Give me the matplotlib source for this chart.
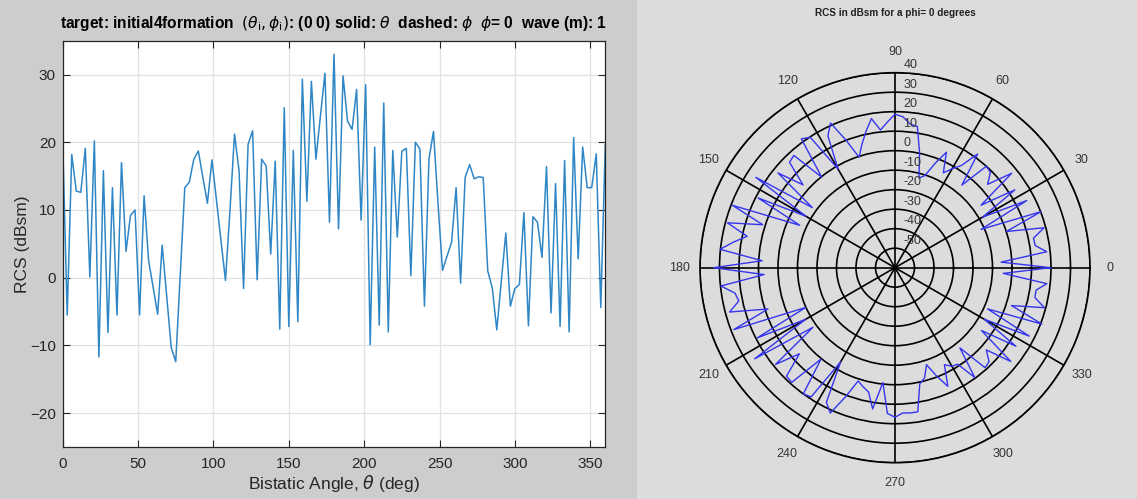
import numpy as np
import matplotlib
matplotlib.use("Agg")
import matplotlib.pyplot as plt
from matplotlib.patches import Rectangle

plt.rcParams['font.family'] = ['Liberation Sans', 'DejaVu Sans']
plt.rcParams['mathtext.fontset'] = 'dejavusans'

# ---------------- data ----------------
theta_deg = np.arange(0, 361, 3)  # sampling grid of bistatic angle (deg)
rcs_dbsm = [
    20.0, -5.5, 18.2, 12.8, 12.6, 19.1, 0.1, 20.2, -11.7, 15.8,
    -8.1, 13.3, -5.5, 17.0, 3.9, 9.2, 10.0, -5.5, 12.1, 2.5,
    -1.4, -5.4, 4.8, -2.7, -10.3, -12.4, 0.5, 13.3, 14.1, 17.5,
    18.7, 14.8, 11.0, 17.4, 11.5, 5.5, -0.4, 10.0, 21.2, 15.8,
    -1.6, 19.7, 21.7, -0.3, 17.5, 16.5, 3.5, 17.2, -7.6, 25.1,
    -7.2, 18.8, -6.5, 29.3, 11.3, 29.0, 17.5, 23.9, 30.2, 8.2,
    33.0, 7.2, 29.8, 23.1, 21.9, 27.8, 8.5, 28.5, -9.9, 19.3,
    -7.0, 25.8, -8.0, 18.8, 6.0, 18.7, 19.1, 0.3, 20.0, 19.0,
    -4.2, 17.5, 21.6, 11.0, 1.1, 3.2, 5.2, 13.3, -0.8, 14.8,
    16.7, 14.6, 14.9, 14.8, 1.0, -1.5, -7.7, -0.5, 6.6, -4.2,
    -1.6, -1.0, 9.6, -7.1, 9.0, 8.2, 3.0, 16.4, -5.2, 13.9,
    -7.2, 17.3, -8.0, 20.7, 2.8, 19.3, 13.3, 13.3, 18.3, -4.4,
    19.7,
]
rcs_dbsm = np.array(rcs_dbsm)

x_ticks = [0, 50, 100, 150, 200, 250, 300, 350]
y_ticks = [-20, -10, 0, 10, 20, 30]
ring_labels = [-50, -40, -30, -20, -10, 0, 10, 20, 30, 40]
polar_floor = -60
angle_ticks = [0, 30, 60, 90, 120, 150, 180, 210, 240, 270, 300, 330]

left_title = (r'target: initial4formation  $(\theta_{\rm i},\phi_{\rm i})$: (0 0) solid: $\theta$  '
              r'dashed: $\phi$  $\phi$= 0  wave (m): 1')
right_title = 'RCS in dBsm for a phi= 0 degrees'

# ---------------- figure ----------------
W, H = 1137, 499
fig = plt.figure(figsize=(W / 100, H / 100), dpi=100)
fig.patch.set_facecolor('#dcdcdc')
fig.patches.append(Rectangle((0, 0), 637 / W, 1, transform=fig.transFigure,
                             facecolor='#cdcdcd', edgecolor='none', zorder=-10))

# ---- left cartesian axes ----
axL = fig.add_axes([62.7 / W, 1 - 447 / H, (605.3 - 62.7) / W, (447 - 40.7) / H])
axL.set_facecolor('white')
axL.plot(theta_deg, rcs_dbsm, color='#2f86c6', lw=1.1)
axL.set_xlim(0, 360)
axL.set_ylim(-25, 35)
axL.set_xticks(x_ticks)
axL.set_yticks(y_ticks)
axL.grid(True, color='#e2e2e2', lw=0.9)
axL.set_axisbelow(True)
for s in axL.spines.values():
    s.set_color('#262626')
    s.set_linewidth(0.9)
axL.tick_params(direction='in', top=True, right=True, length=5, width=0.8,
                colors='#262626', labelsize=11, pad=5)
axL.tick_params(axis='x', pad=7)
axL.set_xlabel(r'Bistatic Angle, $\theta$ (deg)', fontsize=12.5, color='#262626', labelpad=2)
axL.set_ylabel('RCS (dBsm)', fontsize=12.5, color='#262626', labelpad=0)
axL.set_title(left_title, fontsize=11.2, fontweight='bold', color='black', pad=9)

# ---- right polar axes ----
cx, cy, R = 895, 267.7, 195
axP = fig.add_axes([(cx - R) / W, 1 - (cy + R) / H, 2 * R / W, 2 * R / H], projection='polar')
axP.set_facecolor('none')
axP.plot(np.deg2rad(theta_deg), rcs_dbsm - polar_floor, color='#3535ee', lw=1.0)
axP.set_ylim(0, 100)
axP.set_yticks([v - polar_floor for v in ring_labels])
axP.set_yticklabels([])
axP.set_xticks(np.deg2rad(angle_ticks))
axP.set_xticklabels([])
axP.grid(True, color='black', lw=1.2)
axP.spines['polar'].set_color('black')
axP.spines['polar'].set_linewidth(1.2)

for v in ring_labels:
    rpx = (v - polar_floor) / 100 * R
    xo, yo = 8.3, rpx + 1.5
    axP.text(np.arctan2(yo, xo), np.hypot(xo, yo) / R * 100, str(v),
             ha='left', va='bottom', fontsize=9, color='#333333', clip_on=False)

for a in angle_ticks:
    axP.text(np.deg2rad(a), 110.5, str(a), ha='center', va='center',
             fontsize=9, color='#333333', clip_on=False)

fig.text(cx / W, 1 - 12.7 / H, right_title, ha='center', va='center',
         fontsize=7.2, fontweight='bold', color='#222222')

fig.savefig('out.png', dpi=100, facecolor=fig.get_facecolor())
